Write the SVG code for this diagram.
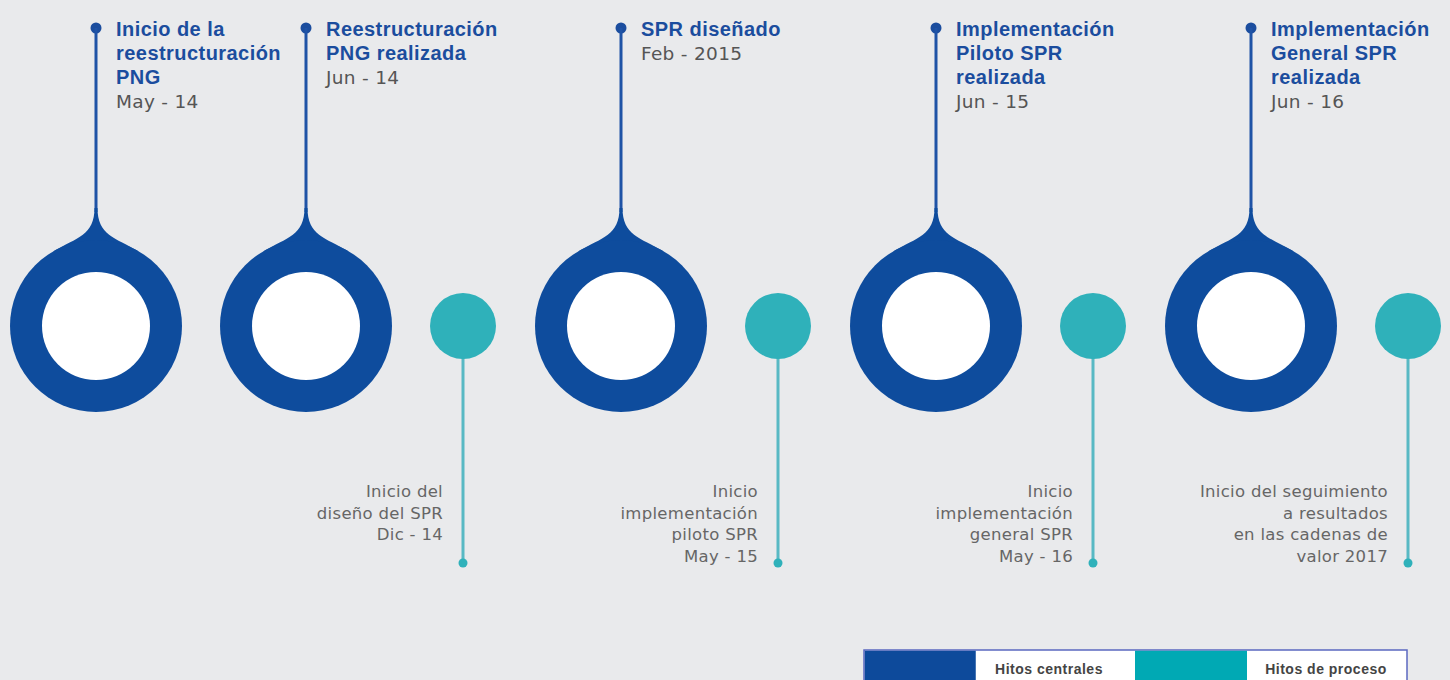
<svg xmlns="http://www.w3.org/2000/svg" xmlns:xlink="http://www.w3.org/1999/xlink" width="1450" height="680" viewBox="0 0 1450 680">
<style>
.head{font-family:"Liberation Sans",Arial,sans-serif;font-weight:bold;font-size:20px;fill:#1b4d9e;letter-spacing:0.45px}
.date{font-family:"DejaVu Sans",sans-serif;font-size:18.5px;fill:#555;letter-spacing:0.3px}
.sub{font-family:"DejaVu Sans",sans-serif;font-size:16.5px;fill:#666;letter-spacing:0.3px;text-anchor:end}
.leg{font-family:"Liberation Sans",Arial,sans-serif;font-weight:bold;font-size:14px;fill:#444;letter-spacing:0.5px;text-anchor:middle}
.bline{stroke:#1f53a6;stroke-width:3;fill:none}
.tline{stroke:#58b9c4;stroke-width:3;fill:none}
</style>
<defs>
<g id="ring">
<circle cx="0" cy="-298" r="5.5" fill="#1b4d9e"/>
<line x1="0" y1="-298" x2="0" y2="-114" class="bline"/>
<path d="M-1.5,-118 C-1.5,-91 -18.8,-88.5 -43,-74.5 L43,-74.5 C18.8,-88.5 1.5,-91 1.5,-118 Z" fill="#0e4c9d"/>
<circle cx="0" cy="0" r="86" fill="#0e4c9d"/>
<circle cx="0" cy="0" r="54" fill="#fff"/>
</g>
<g id="proc">
<line x1="0" y1="20" x2="0" y2="237" class="tline"/>
<circle cx="0" cy="237" r="4.5" fill="#2fb1ba"/>
<circle cx="0" cy="0" r="33" fill="#2fb1ba"/>
</g>
</defs>
<rect width="1450" height="680" fill="#e9eaec"/>

<g id="connectors"></g>

<g id="hito1">
<use xlink:href="#ring" transform="translate(96,326)"/>
<text class="head" x="116" y="36">Inicio de la</text>
<text class="head" x="116" y="60">reestructuración</text>
<text class="head" x="116" y="84">PNG</text>
<text class="date" x="116" y="108">May - 14</text>
</g>

<g id="hito2">
<use xlink:href="#ring" transform="translate(306,326)"/>
<text class="head" x="326" y="36">Reestructuración</text>
<text class="head" x="326" y="60">PNG realizada</text>
<text class="date" x="326" y="84">Jun - 14</text>
</g>

<g id="proceso1">
<use xlink:href="#proc" transform="translate(463,326)"/>
<text class="sub" x="443" y="497">Inicio del</text>
<text class="sub" x="443" y="519">diseño del SPR</text>
<text class="sub" x="443" y="540">Dic - 14</text>
</g>

<g id="hito3">
<use xlink:href="#ring" transform="translate(621,326)"/>
<text class="head" x="641" y="36">SPR diseñado</text>
<text class="date" x="641" y="60">Feb - 2015</text>
</g>

<g id="proceso2">
<use xlink:href="#proc" transform="translate(778,326)"/>
<text class="sub" x="758" y="497">Inicio</text>
<text class="sub" x="758" y="518.5">implementación</text>
<text class="sub" x="758" y="540">piloto SPR</text>
<text class="sub" x="758" y="561.5">May - 15</text>
</g>

<g id="hito4">
<use xlink:href="#ring" transform="translate(936,326)"/>
<text class="head" x="956" y="36">Implementación</text>
<text class="head" x="956" y="60">Piloto SPR</text>
<text class="head" x="956" y="84">realizada</text>
<text class="date" x="956" y="108">Jun - 15</text>
</g>

<g id="proceso3">
<use xlink:href="#proc" transform="translate(1093,326)"/>
<text class="sub" x="1073" y="497">Inicio</text>
<text class="sub" x="1073" y="518.5">implementación</text>
<text class="sub" x="1073" y="540">general SPR</text>
<text class="sub" x="1073" y="561.5">May - 16</text>
</g>

<g id="hito5">
<use xlink:href="#ring" transform="translate(1251,326)"/>
<text class="head" x="1271" y="36">Implementación</text>
<text class="head" x="1271" y="60">General SPR</text>
<text class="head" x="1271" y="84">realizada</text>
<text class="date" x="1271" y="108">Jun - 16</text>
</g>

<g id="proceso4">
<use xlink:href="#proc" transform="translate(1408,326)"/>
<text class="sub" x="1388" y="497">Inicio del seguimiento</text>
<text class="sub" x="1388" y="518.5">a resultados</text>
<text class="sub" x="1388" y="540">en las cadenas de</text>
<text class="sub" x="1388" y="561.5">valor 2017</text>
</g>

<g id="leyenda">
<rect x="864" y="650" width="543" height="40" fill="#fff" stroke="#5b68c0" stroke-width="1.5"/>
<rect x="864.75" y="650.75" width="111" height="40" fill="#0d4a9b"/>
<rect x="1135" y="650.75" width="112" height="40" fill="#00a9b4"/>
<text class="leg" x="1049" y="673.5">Hitos centrales</text>
<text class="leg" x="1326" y="673.5">Hitos de proceso</text>
</g>
</svg>
